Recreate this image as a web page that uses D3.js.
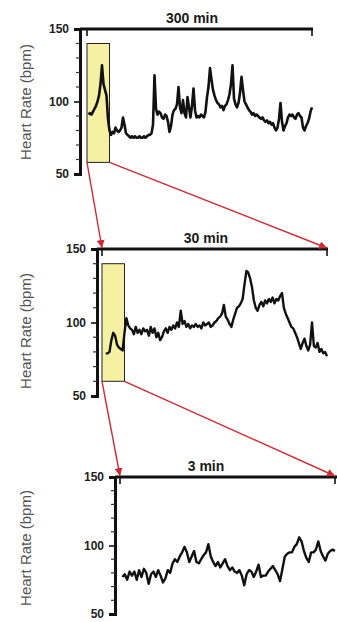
<!DOCTYPE html>
<html lang="en">
<head>
    <meta charset="UTF-8">
    <title>Heart Rate Zoom</title>
    <style>
        body {
            margin: 0;
            background: #fff;
        }
        svg text {
            font-family: "Liberation Sans", Arial, sans-serif;
        }
    </style>
    <script src="https://d3js.org/d3.v7.min.js"></script>
</head>
<body>
    <svg id="chart" width="337" height="622"></svg>

    <script>
        // heart rate samples (bpm)
        // 300 min trace: first sample at 2 min, one every 2 min
        const hr300 = [
            91, 92, 91, 93, 95, 97, 100, 104, 112, 125,
            112, 108, 104, 88, 80, 77, 79, 78, 82, 80,
            79, 80, 82, 89, 84, 78, 77, 76, 75, 76,
            75, 76, 75, 75, 76, 75, 75, 76, 75, 76,
            77, 77, 78, 84, 118, 95, 91, 93, 92, 89,
            88, 91, 90, 86, 79, 83, 91, 94, 95, 98,
            110, 96, 92, 101, 92, 89, 103, 96, 89, 97,
            109, 94, 89, 90, 89, 91, 90, 89, 93, 103,
            110, 123, 115, 108, 104, 101, 99, 98, 96, 97,
            94, 97, 98, 101, 105, 112, 125, 102, 98, 96,
            99, 106, 117, 108, 100, 98, 96, 94, 93, 91,
            92, 90, 91, 90, 89, 88, 89, 87, 86, 87,
            85, 86, 84, 85, 82, 80, 82, 88, 99, 86,
            80, 83, 85, 89, 91, 90, 91, 89, 88, 91,
            92, 90, 89, 82, 80, 83, 85, 88, 93, 96
        ];
        const t300 = { start: 2, step: 2 };

        // 30 min trace: first sample at 0.5 min, one every 0.25 min
        const hr30 = [
            79, 79, 80, 88, 93, 91, 85, 83, 82, 81, 93, 103,
            98, 96, 95, 92, 97, 93, 95, 92, 96, 94, 95, 91,
            97, 93, 96, 90, 93, 88, 90, 94, 96, 93, 97, 95,
            98, 96, 100, 97, 108, 99, 101, 97, 99, 96, 98, 97,
            99, 97, 98, 96, 100, 98, 99, 100, 97, 98, 100, 101,
            103, 104, 106, 112, 104, 102, 99, 97, 102, 106, 110, 111,
            113, 116, 126, 135, 134, 130, 124, 115, 110, 108, 112, 114,
            111, 115, 113, 116, 114, 117, 113, 116, 115, 118, 120, 110,
            106, 103, 100, 97, 96, 93, 90, 86, 82, 86, 89, 84,
            81, 85, 100, 84, 83, 86, 80, 82, 79, 80, 77
        ];
        const t30 = { start: 0.5, step: 0.25 };

        // 3 min trace (seconds): first sample at 2 s, one every 2 s
        const hr3 = [
            77, 79, 75, 81, 78, 81, 75, 82, 77, 83,
            80, 72, 79, 81, 77, 82, 78, 73, 76, 82,
            80, 87, 90, 88, 92, 95, 99, 95, 88, 92,
            96, 88, 87, 90, 93, 95, 101, 92, 88, 85,
            88, 84, 87, 90, 85, 82, 84, 81, 80, 82,
            78, 71, 79, 82, 81, 77, 81, 86, 77, 78,
            78, 81, 83, 85, 82, 79, 74, 83, 92, 94,
            95, 95, 99, 101, 106, 103, 96, 91, 88, 95,
            95, 97, 103, 96, 92, 89, 94, 96, 97, 96
        ];
        const t3 = { start: 2, step: 2 };

        const spanLabels = ["300 min", "30 min", "3 min"];
        const yTicks = [50, 100, 150];
        const yMinorTicks = [60, 70, 80, 90, 110, 120, 130, 140];
        const yTitle = "Heart Rate (bpm)";
        // zoomed windows: [from, to] on the time axis and [low, high] in bpm
        const zoomBoxes = [
            { t: [0, 30], hr: [58, 140] },
            { t: [0, 3], hr: [60, 140] }
        ];

        const svg = d3.select("#chart");
        const red = "#cf2a36";

        svg.append("defs").append("marker")
            .attr("id", "head")
            .attr("viewBox", "0 0 10 10")
            .attr("refX", 10)
            .attr("refY", 5)
            .attr("markerWidth", 8)
            .attr("markerHeight", 8)
            .attr("markerUnits", "userSpaceOnUse")
            .attr("orient", "auto")
            .append("path")
            .attr("d", "M0,0 L10,5 L0,10 z")
            .attr("fill", red);

        const panels = [
            { data: hr300, time: t300, tMax: 300, axisX: 80, xr: [87, 312], yr: [174, 29], barEnd: 313, titleY: 102, lw: 2.6 },
            { data: hr30, time: t30, tMax: 30, axisX: 97, xr: [102, 327], yr: [396, 249], barEnd: 328, titleY: 331, lw: 2.4 },
            { data: hr3, time: t3, tMax: 180, axisX: 115, xr: [120, 335], yr: [614, 477], barEnd: 337, titleY: 548, lw: 2.4 }
        ];

        panels.forEach(p => {
            p.x = d3.scaleLinear().domain([0, p.tMax]).range(p.xr);
            p.y = d3.scaleLinear().domain([50, 150]).range(p.yr);
        });

        function drawPanel(p, i) {
            const g = svg.append("g");

            // zoom box first so it sits under the trace
            if (zoomBoxes[i]) {
                const b = zoomBoxes[i];
                g.append("rect")
                    .attr("x", p.x(b.t[0]))
                    .attr("y", p.y(b.hr[1]))
                    .attr("width", p.x(b.t[1]) - p.x(b.t[0]))
                    .attr("height", p.y(b.hr[0]) - p.y(b.hr[1]))
                    .attr("fill", "#f5f0a2")
                    .attr("stroke", "#222")
                    .attr("stroke-width", 1);
            }

            const line = d3.line()
                .x((d, k) => p.x(p.time.start + k * p.time.step))
                .y(d => p.y(d));

            g.append("path")
                .datum(p.data)
                .attr("d", line)
                .attr("fill", "none")
                .attr("stroke", "#111")
                .attr("stroke-width", p.lw)
                .attr("stroke-linejoin", "round");

            // y axis with minor ticks
            const axis = d3.axisLeft(p.y)
                .tickValues(yTicks)
                .tickSize(6)
                .tickPadding(5)
                .tickFormat(d3.format("d"));
            const ax = g.append("g")
                .attr("transform", `translate(${p.axisX},0)`)
                .call(axis);
            ax.select(".domain").attr("stroke", "#111").attr("stroke-width", 3);
            ax.selectAll(".tick line").attr("stroke", "#111").attr("stroke-width", 1.6);
            ax.selectAll(".tick text")
                .attr("font-size", 12)
                .attr("font-weight", "bold")
                .attr("fill", "#222");

            g.append("g")
                .selectAll("line")
                .data(yMinorTicks)
                .enter().append("line")
                .attr("x1", p.axisX - 4)
                .attr("x2", p.axisX)
                .attr("y1", d => p.y(d))
                .attr("y2", d => p.y(d))
                .attr("stroke", "#333")
                .attr("stroke-width", 1.2);

            // time span bar along the top
            const topY = p.y(150);
            g.append("line")
                .attr("x1", p.axisX)
                .attr("x2", p.barEnd)
                .attr("y1", topY)
                .attr("y2", topY)
                .attr("stroke", "#111")
                .attr("stroke-width", 3);
            g.append("g")
                .selectAll("line")
                .data([0, p.tMax])
                .enter().append("line")
                .attr("x1", d => p.x(d))
                .attr("x2", d => p.x(d))
                .attr("y1", topY)
                .attr("y2", topY + 7)
                .attr("stroke", "#111")
                .attr("stroke-width", 1.6);

            g.append("text")
                .attr("x", i === 0 ? 192 : 206)
                .attr("y", topY - 6)
                .attr("text-anchor", "middle")
                .attr("font-size", 14)
                .attr("font-weight", "bold")
                .attr("fill", "#1a1a1a")
                .text(spanLabels[i]);

            g.append("text")
                .attr("transform", `translate(31,${p.titleY}) rotate(-90)`)
                .attr("text-anchor", "middle")
                .attr("font-size", 15)
                .attr("fill", "#555")
                .text(yTitle);
        }

        panels.forEach(drawPanel);

        // red arrows from each zoom box to the span of the next panel
        zoomBoxes.forEach((b, i) => {
            const a = panels[i], n = panels[i + 1];
            const pairs = [
                [a.x(b.t[0]), a.y(b.hr[0]), n.x(0), n.y(150) - 1],
                [a.x(b.t[1]), a.y(b.hr[0]), n.x(n.tMax), n.y(150) - 1]
            ];
            svg.append("g")
                .selectAll("line")
                .data(pairs)
                .enter().append("line")
                .attr("x1", d => d[0])
                .attr("y1", d => d[1])
                .attr("x2", d => d[2])
                .attr("y2", d => d[3])
                .attr("stroke", red)
                .attr("stroke-width", 1.4)
                .attr("marker-end", "url(#head)");
        });
    </script>
</body>
</html>
